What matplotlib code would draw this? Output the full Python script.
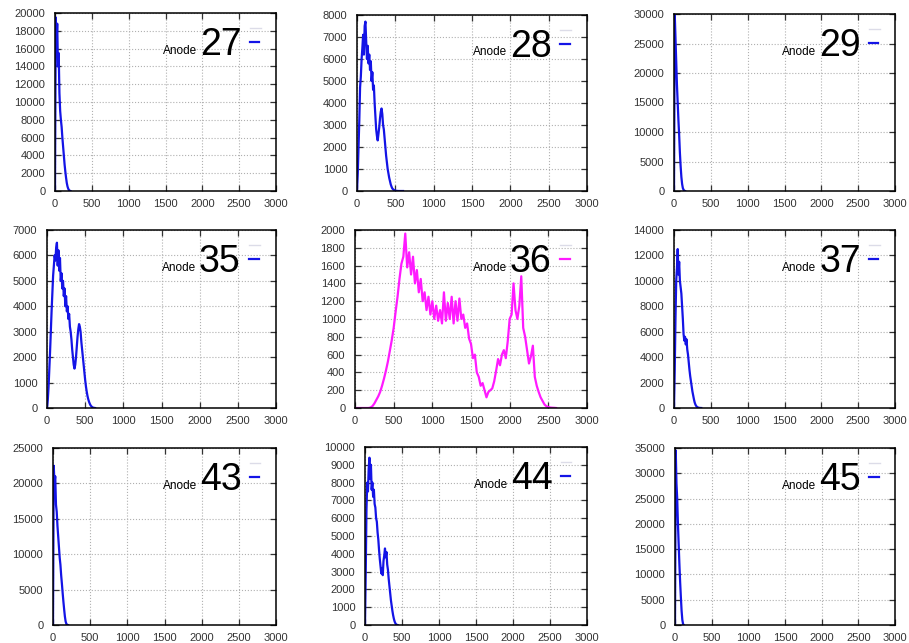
import numpy as np
import matplotlib.pyplot as plt

plt.rcParams['font.family'] = ['Liberation Sans', 'DejaVu Sans']

anodes = ['27', '28', '29', '35', '36', '37', '43', '44', '45']

# counts per channel, bins of 10 (anode 36 uses bins of 25)
a27 = [0, 19500, 16500, 18800, 14000, 15500, 11000, 9000, 8000, 7200, 6000,
       5000, 4000, 3000, 2200, 1500, 900, 500, 250, 100, 40, 0]
a28 = [0, 800, 2000, 3200, 4700, 5200, 6000, 6500, 7100, 6200, 7500, 7700,
       6800, 6000, 6600, 5800, 6200, 5500, 5900, 5000, 5400, 4600, 4800, 4000,
       3400, 2800, 2500, 2300, 2600, 2900, 3300, 3600, 3750, 3500, 3000, 2800,
       2400, 2000, 1600, 1300, 1000, 800, 600, 450, 300, 200, 120, 80, 50, 30,
       20, 10, 5, 3, 0, 0, 0, 0, 0, 0, 0]
a29 = [0, 30000, 26000, 22000, 18000, 15000, 12000, 9500, 6500, 4200, 2400,
       1200, 500, 200, 60, 0]
a35 = [0, 300, 800, 1500, 2200, 3000, 3800, 4500, 5200, 5600, 6000, 5800,
       6300, 6500, 5600, 6200, 5400, 5900, 5000, 5300, 4700, 5000, 4400, 4700,
       4000, 4400, 3800, 4000, 3500, 3700, 3200, 3000, 2700, 2300, 2000, 1700,
       1550, 1700, 2000, 2400, 2800, 3100, 3300, 3200, 3000, 2600, 2300, 2000,
       1700, 1400, 1100, 850, 650, 480, 350, 250, 170, 110, 70, 40, 20, 10, 5, 0]
a36 = [0, 0, 0, 0, 0, 0, 0, 0, 5, 20, 50, 90, 130, 180, 250, 330, 420, 520,
       640, 760, 900, 1080, 1250, 1450, 1620, 1700, 1960, 1580, 1750, 1500,
       1700, 1400, 1550, 1300, 1450, 1200, 1300, 1100, 1250, 1050, 1200, 1000,
       1150, 980, 1100, 950, 1300, 980, 1180, 1000, 1250, 950, 1200, 980, 1230,
       1000, 1050, 900, 950, 780, 720, 560, 600, 400, 350, 250, 280, 200, 120,
       180, 200, 220, 300, 420, 550, 480, 600, 650, 560, 750, 1000, 1050, 1400,
       1100, 1000, 1150, 1480, 900, 800, 650, 500, 580, 700, 350, 250, 180, 120,
       80, 40, 20, 10, 5, 3, 2, 0]
a37 = [0, 3000, 7000, 10000, 11000, 12500, 10500, 11500, 10000, 9500, 9000,
       8000, 7000, 5800, 5300, 5600, 5000, 5400, 4600, 4200, 3600, 3000, 2500,
       2100, 1700, 1300, 1000, 700, 450, 280, 170, 100, 60, 30, 15, 8, 3, 0]
a43 = [0, 22500, 20000, 21000, 17000, 16000, 14000, 12500, 11000, 9500, 8500,
       7000, 5800, 4500, 3300, 2200, 1200, 500, 150, 40, 0]
a44 = [0, 3000, 6500, 8000, 7500, 8800, 9400, 8200, 9000, 7600, 8000, 7200,
       7600, 6800, 6600, 6000, 5800, 5200, 4800, 4200, 3700, 3300, 2900, 3200,
       2800, 3600, 3900, 4300, 3800, 4100, 3400, 3100, 2600, 2200, 1800, 1400,
       1100, 800, 550, 350, 200, 100, 40, 10, 0]
a45 = [0, 34500, 28000, 25000, 20000, 16000, 12000, 8500, 5500, 2800, 1000,
       200, 0]

series = [a27, a28, a29, a35, a36, a37, a43, a44, a45]
bin_width = [10, 10, 10, 10, 25, 10, 10, 10, 10]
ymax = [20000, 8000, 30000, 7000, 2000, 14000, 25000, 10000, 35000]
ystep = [2000, 1000, 5000, 1000, 200, 2000, 5000, 1000, 5000]
colors = ['#1414e6'] * 9
colors[4] = '#ff1aff'

# axes boxes in pixels: left, top, right, bottom
boxes = [(55, 13, 276, 191), (357, 15, 587, 191), (674, 14, 895, 191),
         (47, 230, 276, 408), (355, 230, 587, 408), (674, 230, 895, 408),
         (53, 448, 276, 625), (365, 447, 587, 625), (675, 448, 895, 625)]

W, H = 909, 643
fig = plt.figure(figsize=(W / 100, H / 100), dpi=100)

for i in range(9):
    l, t, r, b = boxes[i]
    ax = fig.add_axes([l / W, 1 - b / H, (r - l) / W, (b - t) / H])
    y = np.array(series[i])
    x = np.arange(len(y)) * bin_width[i]
    ax.plot(x, y, color=colors[i], lw=1.6)

    ax.set_xlim(0, 3000)
    ax.set_ylim(0, ymax[i])
    ax.set_xticks(np.arange(0, 3001, 500))
    ax.set_yticks(np.arange(0, ymax[i] + 1, ystep[i]))
    ax.tick_params(direction='in', top=True, right=True, length=4, width=0.9,
                   labelsize=8, colors='#333333')
    ax.tick_params(axis='y', pad=7)
    ax.tick_params(axis='x', pad=6)
    ax.grid(True, color='#b0b0b0', ls=':', lw=0.8)
    for s in ax.spines.values():
        s.set_linewidth(1.1)

    num = ax.text(0.846, 0.764, anodes[i], transform=ax.transAxes,
                  fontsize=27, ha='right', va='baseline')
    ax.annotate('Anode', xy=(0, 0), xycoords=num, xytext=(-2, 4.5),
                textcoords='offset points', ha='right', va='bottom',
                fontsize=8.5)
    ax.plot([0.882, 0.93], [0.915, 0.915], transform=ax.transAxes,
            color='#dcdce8', lw=1)
    ax.plot([0.882, 0.925], [0.835, 0.835], transform=ax.transAxes,
            color=colors[i], lw=1.6)

fig.savefig('out.png', dpi=100)
